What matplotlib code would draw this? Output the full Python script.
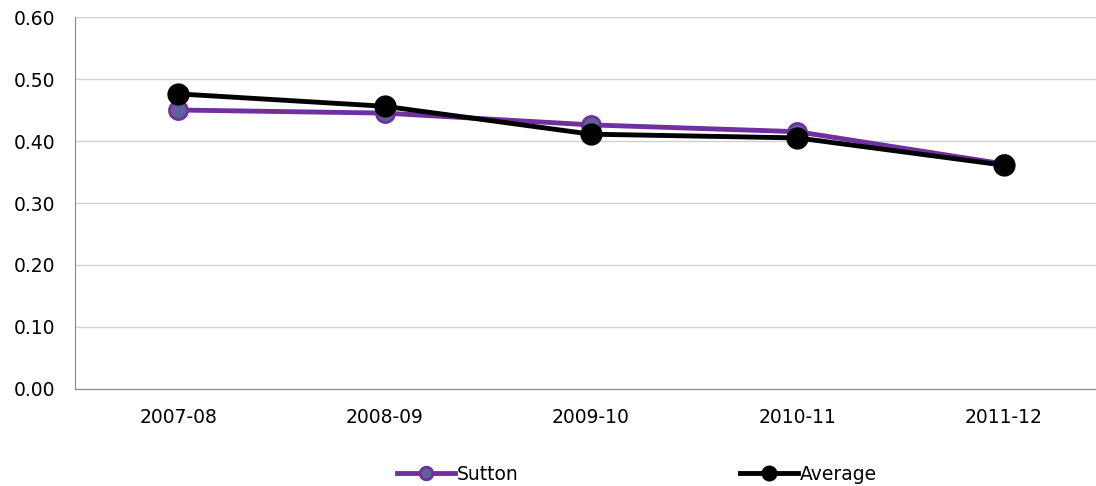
import matplotlib
matplotlib.use('Agg')
from matplotlib import pyplot as plt

years = ['2007-08', '2008-09', '2009-10', '2010-11', '2011-12']
sutton = [0.450, 0.445, 0.426, 0.415, 0.363]
average = [0.476, 0.456, 0.411, 0.405, 0.361]
yticks = [0.0, 0.1, 0.2, 0.3, 0.4, 0.5, 0.6]

plt.rcParams['font.family'] = ['DejaVu Sans']
fig = plt.figure(figsize=(10.96, 4.86), dpi=100)
W, H = 1096.0, 486.0
ax = fig.add_axes([75 / W, 1 - 389 / H, (1107 - 75) / W, (389 - 17) / H])

x = list(range(len(years)))
ax.plot(x, sutton, color='#7030A0', lw=3.5, marker='o', ms=13,
        mfc='#5F6299', mec='#7030A0', mew=2, label='Sutton', zorder=3)
ax.plot(x, average, color='black', lw=3.5, marker='o', ms=15,
        mfc='black', mec='black', label='Average', zorder=4)

ax.set_xlim(-0.5, 4.5)
ax.set_ylim(0, 0.6)
ax.set_yticks(yticks)
ax.set_yticklabels(['%.2f' % v for v in yticks])
ax.set_xticks(x)
ax.set_xticklabels(years)
ax.tick_params(axis='both', length=0, labelsize=13.5, colors='black')
ax.tick_params(axis='y', pad=14)
ax.tick_params(axis='x', pad=14)
ax.grid(axis='y', color='#D0D0D0', lw=1)
ax.set_axisbelow(True)
for s in ['top', 'right']:
    ax.spines[s].set_visible(False)
for s in ['left', 'bottom']:
    ax.spines[s].set_color('#888888')

leg = fig.legend(loc='center', bbox_to_anchor=(637 / W, 1 - 474 / H), ncol=2,
                 frameon=False, fontsize=13.5, columnspacing=11.8,
                 handlelength=3.1, handletextpad=0.1, markerscale=0.7)

fig.savefig('out.png', dpi=100)
